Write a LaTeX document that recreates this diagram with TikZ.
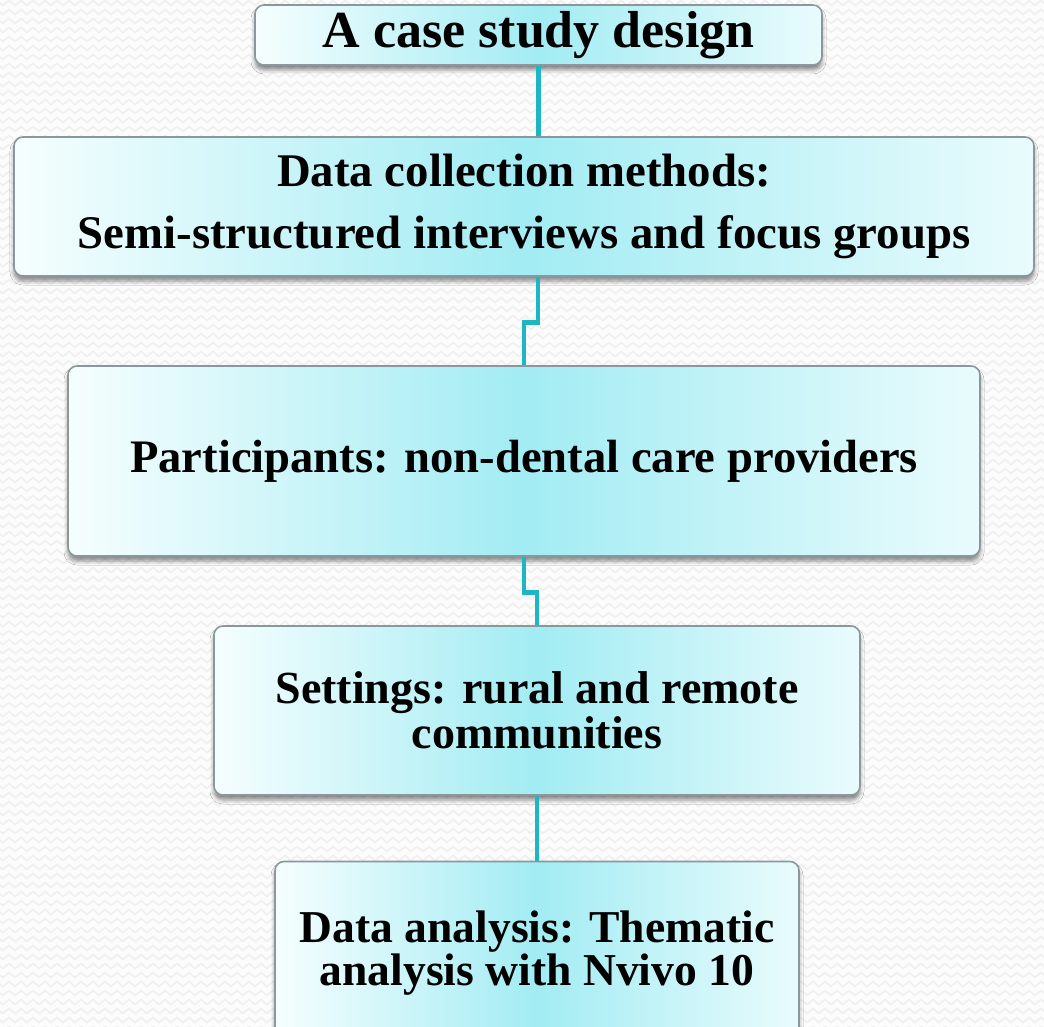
\documentclass[tikz,border=0pt]{standalone}
\usepackage{fontspec}
\setmainfont{Liberation Serif}
\usepackage{tikz}
\usetikzlibrary{decorations.pathmorphing,shadows.blur}
\definecolor{stem}{HTML}{1DB6C3}
\definecolor{glow}{HTML}{A2ECF3}
\definecolor{pale}{HTML}{F6FEFE}
\definecolor{rim}{HTML}{8A989B}
\definecolor{wave}{HTML}{F0F0F0}

\begin{document}
\begin{tikzpicture}[
  x=0.5pt,y=-0.5pt,
  stage/.style={draw=rim,line width=0.8pt,rounded corners=4.5pt,
    left color=pale,right color=pale!85!glow,middle color=glow,
    align=center,inner sep=0pt,font=\bfseries,
    blur shadow={shadow xshift=0pt,shadow yshift=-2.5pt,shadow blur radius=2pt,shadow opacity=45}},
  link/.style={draw=stem,line width=2.4pt},
  wavy/.style={draw=wave,line width=0.9pt,decorate,
    decoration={zigzag,segment length=6pt,amplitude=1.2pt}}
]
\clip (0,0) rectangle (1044,1027);
\fill[white!99!black] (0,0) rectangle (1044,1027);
% faint chevron backdrop
\foreach \r in {0,...,114}
  \draw[wavy] (-6,\r*9+3) -- (1050,\r*9+3);

\node[stage,minimum width=283.5pt,minimum height=30pt,
  font=\bfseries\fontsize{26}{28}\selectfont] (design) at (538.5,35) {A case study design};
\node[stage,minimum width=510pt,minimum height=69.5pt,
  font=\bfseries\fontsize{23.4}{31}\selectfont] (methods) at (524,206.5)
  {Data collection methods:\\Semi-structured interviews and focus groups};
\node[stage,minimum width=456pt,minimum height=95pt,
  font=\bfseries\fontsize{23.3}{27}\selectfont] (participants) at (524,461)
  {Participants: non-dental care providers};
\node[stage,minimum width=323pt,minimum height=84.5pt,
  font=\bfseries\fontsize{23}{22.5}\selectfont] (settings) at (537,710.5)
  {Settings: rural and remote\\communities};
\node[stage,minimum width=262pt,minimum height=91.5pt,
  font=\bfseries\fontsize{22.8}{21.5}\selectfont] (analysis) at (537,953)
  {Data analysis: Thematic\\analysis with Nvivo 10};

\draw[link] (design.south) -- (design.south |- methods.north);
\draw[link] ([xshift=7pt]methods.south) -- ++(0,-23pt) -| (participants.north);
\draw[link] (participants.south) -- ++(0,-18pt) -| (settings.north);
\draw[link] (settings.south) -- (analysis.north);
\end{tikzpicture}
\end{document}
